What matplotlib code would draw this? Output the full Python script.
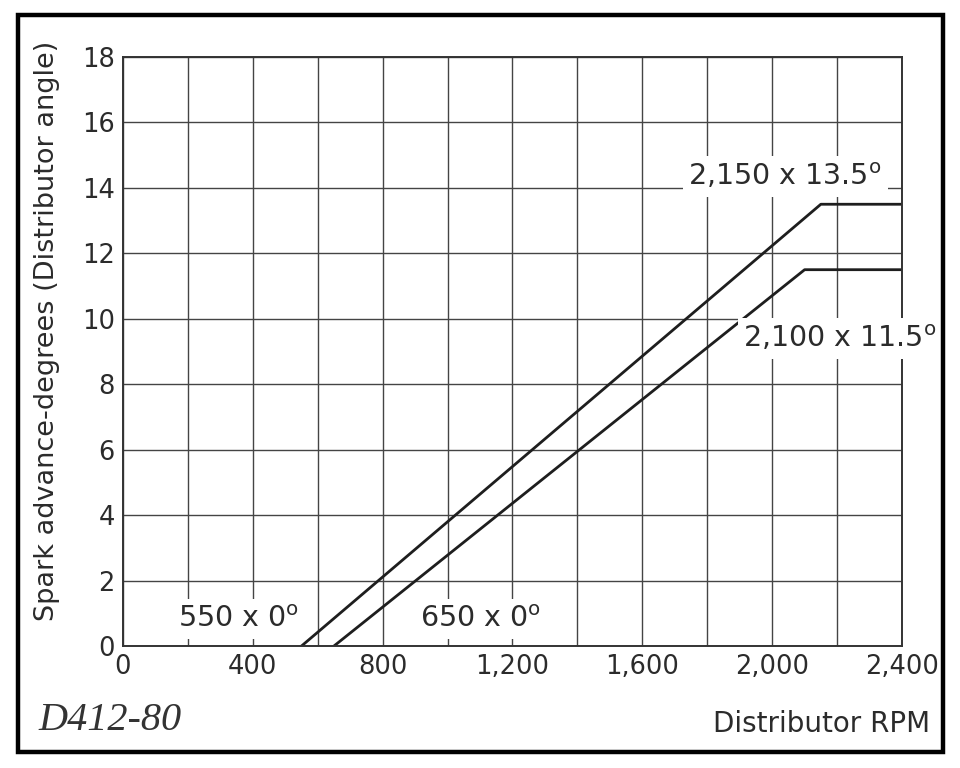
import matplotlib
matplotlib.use('Agg')
import matplotlib.pyplot as plt
from matplotlib.patches import Rectangle

plt.rcParams['font.family'] = ['DejaVu Sans']
plt.rcParams['mathtext.fontset'] = 'dejavusans'

# curve break points (RPM, degrees)
rpm_upper = [550, 2150, 2400]
adv_upper = [0, 13.5, 13.5]
rpm_lower = [650, 2100, 2400]
adv_lower = [0, 11.5, 11.5]

x_ticks = [0, 400, 800, 1200, 1600, 2000, 2400]
x_labels = ['0', '400', '800', '1,200', '1,600', '2,000', '2,400']
y_ticks = [0, 2, 4, 6, 8, 10, 12, 14, 16, 18]

notes = [
    (357, 0.58, r'550 x 0$^{\mathrm{o}}$'),
    (1100, 0.58, r'650 x 0$^{\mathrm{o}}$'),
    (2040, 14.09, r'2,150 x 13.5$^{\mathrm{o}}$'),
    (2209, 9.14, r'2,100 x 11.5$^{\mathrm{o}}$'),
]

ink = '#2b2b2b'
fig = plt.figure(figsize=(9.6, 7.68), dpi=100)
ax = fig.add_axes([123/960, 1 - 646/768, 779/960, 589/768])

ax.plot(rpm_upper, adv_upper, color='#1e1e1e', lw=2.0, zorder=2)
ax.plot(rpm_lower, adv_lower, color='#1e1e1e', lw=2.0, zorder=2)

ax.set_xlim(0, 2400)
ax.set_ylim(0, 18)
ax.set_xticks(x_ticks)
ax.set_xticklabels(x_labels)
ax.set_xticks(range(0, 2401, 200), minor=True)
ax.set_yticks(y_ticks)
ax.grid(True, which='both', color='#444444', lw=1.0)
ax.tick_params(which='both', length=0, labelsize=18.5, colors=ink, pad=6)
for s in ax.spines.values():
    s.set_color('#333333')
    s.set_linewidth(1.4)

for x, y, t in notes:
    ax.text(x, y, t, ha='center', va='baseline', fontsize=20.5, color=ink,
            bbox=dict(facecolor='white', edgecolor='none', pad=4), zorder=3,
            clip_on=False)

ax.set_ylabel('Spark advance-degrees (Distributor angle)', fontsize=19.5, color=ink)
ax.yaxis.label.set_va('center')
ax.yaxis.set_label_coords(-0.0976, 0.535)

fig.text(930/960, 1 - 732/768, 'Distributor RPM', ha='right', va='baseline',
         fontsize=20, color=ink)
fig.text(38/960, 1 - 730/768, 'D412-80', ha='left', va='baseline',
         fontsize=29, fontfamily='Liberation Serif', fontstyle='italic',
         color='#333333')

fig.patches.append(Rectangle((17.5/960, 1 - 752/768), 925/960, 737/768,
                             transform=fig.transFigure, fill=False,
                             edgecolor='black', lw=3.2))

fig.savefig('out.png', dpi=100)
